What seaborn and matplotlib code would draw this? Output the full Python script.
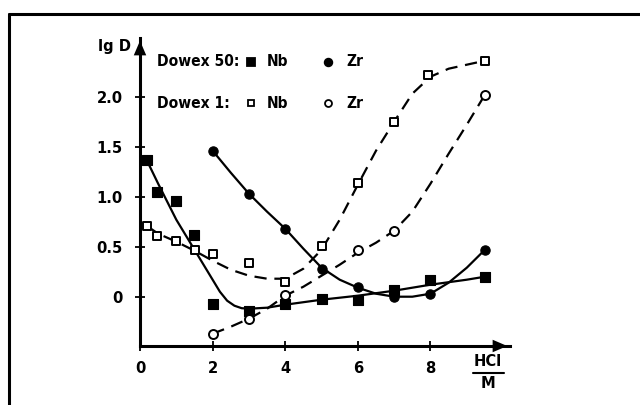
import matplotlib
matplotlib.use("Agg")
import matplotlib.pyplot as plt
import seaborn as sns
from matplotlib.lines import Line2D

# ---------------- data ----------------
x_ticks = [0, 2, 4, 6, 8]
y_ticks = [0, 0.5, 1.0, 1.5, 2.0]
y_tick_labels = ["0", "0.5", "1.0", "1.5", "2.0"]

# Dowex 50, Nb (filled squares)
nb50_x = [0.18, 0.48, 0.99, 1.5, 2.0, 3.0, 4.0, 5.0, 6.0, 7.0, 8.0, 9.5]
nb50_y = [1.37, 1.05, 0.96, 0.62, -0.07, -0.14, -0.07, -0.02, -0.03, 0.07, 0.17, 0.20]
# Dowex 50, Zr (filled circles)
zr50_x = [2.0, 3.0, 4.0, 5.0, 6.0, 7.0, 8.0, 9.5]
zr50_y = [1.46, 1.03, 0.68, 0.28, 0.10, 0.00, 0.03, 0.47]
# Dowex 1, Nb (open squares)
nb1_x = [0.18, 0.48, 0.99, 1.52, 2.0, 3.0, 4.0, 5.0, 6.0, 7.0, 7.92, 9.5]
nb1_y = [0.71, 0.61, 0.56, 0.47, 0.43, 0.34, 0.15, 0.51, 1.14, 1.75, 2.22, 2.36]
# Dowex 1, Zr (open circles)
zr1_x = [2.0, 3.0, 4.0, 6.0, 7.0, 9.5]
zr1_y = [-0.37, -0.22, 0.02, 0.47, 0.66, 2.02]

# fitted curves as drawn in the picture
nb50_cx = [0.18, 0.5, 1.0, 1.5, 2.0, 2.2, 2.4, 2.6, 2.8, 3.0, 3.5, 4.0, 5.0, 6.0, 7.0, 8.0, 9.0, 9.5]
nb50_cy = [1.37, 1.13, 0.77, 0.47, 0.17, 0.05, -0.04, -0.09, -0.115, -0.12, -0.11, -0.08, -0.03, 0.01, 0.06, 0.12, 0.17, 0.20]
zr50_cx = [2.0, 2.5, 3.0, 3.5, 4.0, 4.5, 5.0, 5.5, 6.0, 6.5, 7.0, 7.5, 8.0, 8.5, 9.0, 9.5]
zr50_cy = [1.46, 1.24, 1.03, 0.85, 0.68, 0.48, 0.29, 0.17, 0.09, 0.03, 0.00, 0.00, 0.03, 0.14, 0.29, 0.47]
nb1_cx = [0.18, 0.5, 1.0, 1.5, 2.0, 2.5, 3.0, 3.5, 4.0, 4.5, 5.0, 5.5, 6.0, 6.5, 7.0, 7.5, 8.0, 8.5, 9.0, 9.5]
nb1_cy = [0.71, 0.63, 0.55, 0.46, 0.36, 0.27, 0.21, 0.18, 0.18, 0.28, 0.47, 0.77, 1.12, 1.46, 1.75, 2.03, 2.20, 2.28, 2.32, 2.36]
zr1_cx = [2.0, 2.5, 3.0, 3.5, 4.0, 4.5, 5.0, 5.5, 6.0, 6.5, 7.0, 7.5, 8.0, 8.5, 9.0, 9.5]
zr1_cy = [-0.37, -0.30, -0.22, -0.12, 0.01, 0.10, 0.21, 0.32, 0.44, 0.54, 0.66, 0.85, 1.13, 1.43, 1.72, 2.02]

# ---------------- style ----------------
sns.set_style("white")
FONT = ["DejaVu Sans Condensed", "DejaVu Sans"]
plt.rcParams["font.family"] = FONT
plt.rcParams["font.weight"] = "bold"
plt.rcParams["font.stretch"] = "condensed"
plt.rcParams["text.color"] = "black"
plt.rcParams["xtick.color"] = "black"
plt.rcParams["ytick.color"] = "black"

FS = 11.8
TXT = dict(fontsize=FS, fontweight="bold", family=FONT, fontstretch="condensed", color="black")
TXT_LEG = dict(TXT, fontsize=11.2)

W, H = 640, 405
fig = plt.figure(figsize=(W / 100, H / 100), dpi=100)
fig.patch.set_facecolor("white")

def fx(px):
    return px / W

def fy(py):
    return 1 - py / H

ax = fig.add_axes([fx(140), fy(346), 370 / W, 308 / H])
ax.set_facecolor("white")

LW = 1.6
dash = (0, (5.5, 3.5))

sns.lineplot(x=nb50_cx, y=nb50_cy, ax=ax, color="black", lw=LW, sort=False)
sns.lineplot(x=zr50_cx, y=zr50_cy, ax=ax, color="black", lw=LW, sort=False)
sns.lineplot(x=nb1_cx, y=nb1_cy, ax=ax, color="black", lw=LW, sort=False, linestyle=dash)
sns.lineplot(x=zr1_cx, y=zr1_cy, ax=ax, color="black", lw=LW, sort=False, linestyle=dash)

sns.scatterplot(x=nb50_x, y=nb50_y, ax=ax, marker="s", s=42, color="black",
                edgecolor="black", linewidth=0.8, zorder=5)
sns.scatterplot(x=zr50_x, y=zr50_y, ax=ax, marker="o", s=45, color="black",
                edgecolor="black", linewidth=0.8, zorder=5)
sns.scatterplot(x=nb1_x, y=nb1_y, ax=ax, marker="s", s=40, color="white",
                edgecolor="black", linewidth=1.4, zorder=5)
sns.scatterplot(x=zr1_x, y=zr1_y, ax=ax, marker="o", s=42, color="white",
                edgecolor="black", linewidth=1.4, zorder=5)

ax.set_xlim(0, 10.19)
ax.set_ylim(-0.493, 2.587)
ax.set_xticks(x_ticks)
ax.set_xticklabels([str(t) for t in x_ticks])
ax.set_yticks(y_ticks)
ax.set_yticklabels(y_tick_labels)
for lab in ax.get_xticklabels() + ax.get_yticklabels():
    lab.set_fontsize(FS)
    lab.set_fontweight("bold")
    lab.set_family(FONT)
    lab.set_fontstretch("condensed")
    lab.set_color("black")
ax.tick_params(axis="both", direction="inout", length=7, width=1.3, color="black",
               bottom=True, left=True)
ax.tick_params(axis="x", pad=7)
ax.tick_params(axis="y", pad=9)
ax.set_xlabel("")
ax.set_ylabel("")
for s in ["top", "right"]:
    ax.spines[s].set_visible(False)
for s in ["left", "bottom"]:
    ax.spines[s].set_visible(True)
    ax.spines[s].set_linewidth(2.2)
    ax.spines[s].set_color("black")

# arrow heads
ax.annotate("", xy=(1.0, 0), xytext=(0.96, 0), xycoords="axes fraction",
            arrowprops=dict(arrowstyle="-|>,head_length=0.7,head_width=0.3",
                            mutation_scale=15, color="black", lw=0))
ax.annotate("", xy=(0, 1.0), xytext=(0, 0.95), xycoords="axes fraction",
            arrowprops=dict(arrowstyle="-|>,head_length=0.7,head_width=0.3",
                            mutation_scale=15, color="black", lw=0))

# axis labels
fig.text(fx(114), fy(46), "lg D", ha="center", va="center", **TXT)
fig.text(fx(488), fy(362), "HCl", ha="center", va="center", **TXT)
fig.add_artist(Line2D([fx(473), fx(504)], [fy(373), fy(373)], color="black", lw=1.5))
fig.text(fx(488), fy(384), "M", ha="center", va="center", **TXT)

# legend
rows = [("Dowex 50:", 62, "black"), ("Dowex 1:", 103, "white")]
for label, yy, face in rows:
    fig.text(fx(157), fy(yy), label, ha="left", va="center", **TXT_LEG)
    fig.add_artist(Line2D([fx(251)], [fy(yy)], marker="s", ms=5.5 if face == "black" else 5,
                          mfc=face, mec="black", mew=1.3, ls="none"))
    fig.text(fx(267), fy(yy), "Nb", ha="left", va="center", **TXT_LEG)
    fig.add_artist(Line2D([fx(328)], [fy(yy)], marker="o", ms=5.5 if face == "black" else 5,
                          mfc=face, mec="black", mew=1.3, ls="none"))
    fig.text(fx(346), fy(yy), "Zr", ha="left", va="center", **TXT_LEG)

# scanned frame (top and left edges)
fig.add_artist(Line2D([fx(9), fx(640)], [fy(14), fy(14)], color="black", lw=2.2))
fig.add_artist(Line2D([fx(9), fx(9)], [fy(14), fy(405)], color="black", lw=2.2))

fig.savefig("out.png", dpi=100, facecolor="white")
